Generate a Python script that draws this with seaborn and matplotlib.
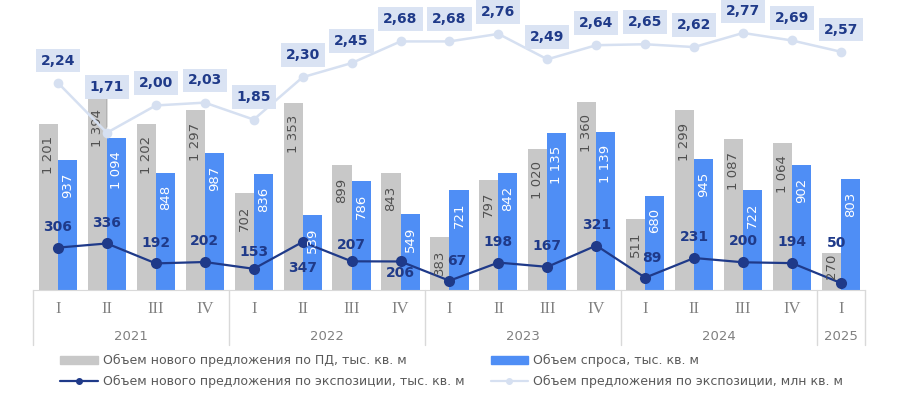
import numpy as np
import pandas as pd
import matplotlib
matplotlib.use("Agg")
import matplotlib.pyplot as plt
import seaborn as sns
from matplotlib.lines import Line2D
from matplotlib.patches import Patch

# данные по кварталам
years = ["2021"] * 4 + ["2022"] * 4 + ["2023"] * 4 + ["2024"] * 4 + ["2025"]
quarters = ["I", "II", "III", "IV"] * 4 + ["I"]
supply_pd = [1201, 1394, 1202, 1297, 702, 1353, 899, 843, 383, 797, 1020, 1360, 511, 1299, 1087, 1064, 270]
demand = [937, 1094, 848, 987, 836, 539, 786, 549, 721, 842, 1135, 1139, 680, 945, 722, 902, 803]
new_expo = [306, 336, 192, 202, 153, 347, 207, 206, 67, 198, 167, 321, 89, 231, 200, 194, 50]
expo_total = [2.24, 1.71, 2.00, 2.03, 1.85, 2.30, 2.45, 2.68, 2.68, 2.76, 2.49, 2.64, 2.65, 2.62, 2.77, 2.69, 2.57]

lbl_pd = "Объем нового предложения по ПД, тыс. кв. м"
lbl_dem = "Объем спроса, тыс. кв. м"
lbl_new = "Объем нового предложения по экспозиции, тыс. кв. м"
lbl_tot = "Объем предложения по экспозиции, млн кв. м"

GRAY = "#c8c8c8"
BLUE = "#4f8ef5"
NAVY = "#1f3a89"
LIGHT = "#d6e0f1"
BOX = "#dae3f3"
TXT = "#595959"

sns.set_style("white")
plt.rcParams["font.family"] = ["DejaVu Sans"]

n = len(quarters)
periods = [f"{y} {q}" for y, q in zip(years, quarters)]
df = pd.DataFrame({
    "period": periods * 2,
    "series": [lbl_pd] * n + [lbl_dem] * n,
    "value": supply_pd + demand,
})

fig = plt.figure(figsize=(9, 3.96), dpi=100)
ax = fig.add_axes([0.0372, 0.2677, 0.9244, 0.7323])

sns.barplot(data=df, x="period", y="value", hue="series", order=periods,
            hue_order=[lbl_pd, lbl_dem], palette=[GRAY, BLUE], saturation=1,
            width=0.78, gap=0, legend=False, ax=ax, linewidth=0)

# подписи столбцов (у низких столбцов - вплотную к верху)
for cont, col in zip(ax.containers, ["#505050", "white"]):
    for bar in cont:
        h = bar.get_height()
        pad = -9 if h > 300 else -1
        ax.annotate(f"{int(h):,}".replace(",", " "),
                    (bar.get_x() + bar.get_width() / 2, h),
                    xytext=(0, pad), textcoords="offset points",
                    rotation=90, ha="center", va="top", fontsize=9.5, color=col)

x = np.arange(n)
sns.lineplot(x=x, y=new_expo, color=NAVY, lw=1.6, marker="o", markersize=8,
             markeredgewidth=0, ax=ax)
new_off = [(0, 15)] * n
new_off[4] = (0, 12)
new_off[5] = (0, -19)
new_off[6] = (0, 12)
new_off[7] = (0, -8)
new_off[8] = (5, 14)
new_off[12] = (5, 14)
new_off[16] = (-3, 29)
for i, v in enumerate(new_expo):
    ax.annotate(str(v), (i, v), xytext=new_off[i], textcoords="offset points",
                ha="center", va="center", fontsize=10, fontweight="bold", color=NAVY)

ax.set_xlim(-0.5, n - 0.5)
ax.set_ylim(0, 2094)
ax.set_yticks([])
ax.set_xlabel("")
ax.set_ylabel("")
for s in ["top", "left", "right"]:
    ax.spines[s].set_visible(False)
ax.spines["bottom"].set_color("#d9d9d9")
ax.set_xticks(x, quarters, fontfamily="Liberation Serif", fontsize=12, color="#808080")
ax.tick_params(axis="x", length=0, pad=8)

# годы и разделители
trans = ax.get_xaxis_transform()
uniq = list(dict.fromkeys(years))
for yr in uniq:
    idx = [i for i, y in enumerate(years) if y == yr]
    ax.text(np.mean(idx), -0.159, yr, transform=trans, ha="center", va="center",
            fontsize=9.5, color="#808080")
    ax.plot([idx[0] - 0.5] * 2, [0, -0.19], transform=trans, color="#d9d9d9",
            lw=1, clip_on=False)
ax.plot([n - 0.5] * 2, [0, -0.19], transform=trans, color="#d9d9d9", lw=1, clip_on=False)

# вторая ось
ax2 = ax.twinx()
sns.lineplot(x=x, y=expo_total, color=LIGHT, lw=1.8, marker="o", markersize=7,
             markeredgewidth=0, ax=ax2)
ax2.set_ylim(0.04, 3.12)
ax2.set_yticks([])
ax2.set_ylabel("")
for s in ax2.spines.values():
    s.set_visible(False)
for i, v in enumerate(expo_total):
    dy = 33 if i == 1 else 16
    kw = {}
    if i == 1:
        kw["arrowprops"] = dict(arrowstyle="-", color="#a6a6a6", lw=0.7, shrinkA=0, shrinkB=4)
    ax2.annotate(f"{v:.2f}".replace(".", ","), (i, v), xytext=(0, dy),
                 textcoords="offset points", ha="center", va="center",
                 fontsize=10, fontweight="bold", color=NAVY,
                 bbox=dict(boxstyle="square,pad=0.35", fc=BOX, ec="none"), **kw)

handles = [
    Patch(color=GRAY),
    Line2D([], [], color=NAVY, lw=1.6, marker="o", markersize=4),
    Patch(color=BLUE),
    Line2D([], [], color=LIGHT, lw=1.6, marker="o", markersize=4),
]
fig.legend(handles, [lbl_pd, lbl_new, lbl_dem, lbl_tot], loc="upper left",
           bbox_to_anchor=(0.067, 0.105), ncol=2, frameon=False, fontsize=9,
           handlelength=3, columnspacing=2.1, labelspacing=0.6, handletextpad=0.4,
           borderaxespad=0, borderpad=0, labelcolor=TXT)

fig.savefig("out.png", dpi=100, facecolor="white")
